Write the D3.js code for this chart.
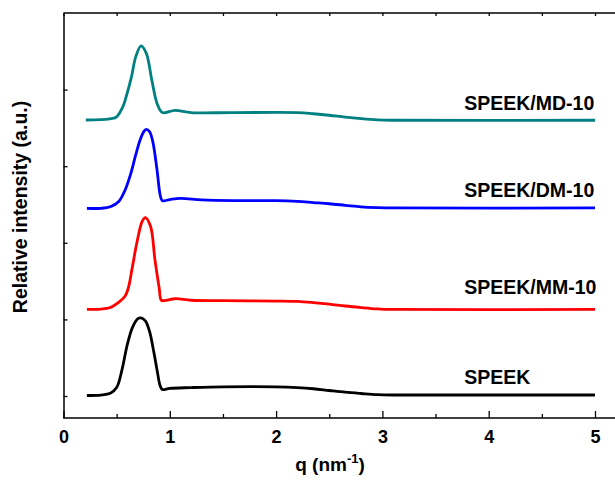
<!DOCTYPE html>
<html>
<head>
<meta charset="utf-8">
<script src="https://cdn.jsdelivr.net/npm/d3@7"></script>
<style>
  body { margin: 0; background: #fff; }
  svg { display: block; }
  text { font-family: "Liberation Sans", Arial, sans-serif; font-weight: bold; }
</style>
</head>
<body>
<script>
// series, bottom to top (stacked offsets already included)
var seriesNames = ["SPEEK", "SPEEK/MM-10", "SPEEK/DM-10", "SPEEK/MD-10"];
var seriesColors = ["#000000", "#ff0000", "#0000ff", "#008080"];

var speek = [
  [0.22, 0.007], [0.35, 0.013], [0.44, 0.035], [0.50, 0.11], [0.55, 0.34],
  [0.60, 0.67], [0.65, 0.90], [0.70, 1.01], [0.73, 1.02], [0.77, 0.98],
  [0.81, 0.84], [0.85, 0.57], [0.88, 0.34], [0.91, 0.13], [0.93, 0.085],
  [1.0, 0.10], [1.2, 0.11], [1.5, 0.12], [2.0, 0.12], [2.2, 0.11],
  [2.35, 0.095], [2.5, 0.072], [2.65, 0.05], [2.8, 0.033], [2.95, 0.018],
  [3.1, 0.013], [3.5, 0.013], [5.0, 0.013]
];
var speekMM = [
  [0.22, 1.13], [0.35, 1.135], [0.44, 1.155], [0.53, 1.235], [0.58, 1.305],
  [0.61, 1.41], [0.65, 1.70], [0.69, 2.00], [0.74, 2.28], [0.77, 2.33],
  [0.82, 2.21], [0.86, 1.78], [0.90, 1.41], [0.92, 1.25], [0.95, 1.245],
  [1.05, 1.27], [1.2, 1.25], [1.5, 1.245], [2.0, 1.24], [2.2, 1.235],
  [2.35, 1.22], [2.5, 1.20], [2.65, 1.175], [2.8, 1.155], [2.95, 1.138],
  [3.1, 1.13], [5.0, 1.13]
];
var speekDM = [
  [0.22, 2.45], [0.35, 2.45], [0.44, 2.47], [0.52, 2.54], [0.58, 2.69],
  [0.63, 2.89], [0.68, 3.15], [0.72, 3.34], [0.76, 3.46], [0.78, 3.48],
  [0.81, 3.45], [0.84, 3.32], [0.88, 2.95], [0.91, 2.62], [0.93, 2.55],
  [1.0, 2.565], [1.1, 2.58], [1.3, 2.56], [1.6, 2.55], [2.0, 2.55],
  [2.2, 2.54], [2.35, 2.525], [2.5, 2.51], [2.65, 2.49], [2.8, 2.47],
  [2.95, 2.46], [3.1, 2.455], [5.0, 2.455]
];
var speekMD = [
  [0.21, 3.603], [0.35, 3.607], [0.45, 3.62], [0.50, 3.645], [0.56, 3.78],
  [0.59, 3.91], [0.64, 4.17], [0.68, 4.43], [0.73, 4.57], [0.78, 4.47],
  [0.83, 4.13], [0.88, 3.82], [0.93, 3.70], [1.05, 3.73], [1.2, 3.70],
  [1.6, 3.70], [2.2, 3.70], [2.35, 3.685], [2.5, 3.665], [2.65, 3.64],
  [2.8, 3.62], [2.95, 3.605], [3.1, 3.60], [5.0, 3.60]
];
var allSeries = [speek, speekMM, speekDM, speekMD];

var xTicks = [0, 1, 2, 3, 4, 5];
var xMinorTicks = [0.5, 1.5, 2.5, 3.5, 4.5];
var yTicks = [0, 1, 2, 3, 4];

var W = 615, H = 481;
var svg = d3.select("body").append("svg").attr("width", W).attr("height", H);

var x = d3.scaleLinear().domain([0, 5]).range([63.5, 595]);
var y = d3.scaleLinear().domain([-0.287, 5]).range([418, 13]);

// top border (runs off the right edge)
var topG = svg.append("g").attr("transform", "translate(0," + y(5) + ")");
topG.append("line").attr("x1", x(0)).attr("x2", W + 5)
  .attr("stroke", "#000").attr("stroke-width", 1.5);
topG.call(d3.axisTop(x).tickValues(xTicks.concat(xMinorTicks)).tickSize(-3).tickFormat(""))
  .call(function (g) { g.select(".domain").remove(); });

// lines
var line = d3.line()
  .x(function (d) { return x(d[0]); })
  .y(function (d) { return y(d[1]); })
  .curve(d3.curveCatmullRom.alpha(0.5));

svg.selectAll(".curve")
  .data(allSeries)
  .enter()
  .append("path")
  .attr("class", "curve")
  .attr("d", line)
  .attr("fill", "none")
  .attr("stroke", function (d, i) { return seriesColors[i]; })
  .attr("stroke-width", 2.8)
  .attr("stroke-linejoin", "round");

// labels
var labelLift = [11, 15, 11, 10];
svg.selectAll(".lbl")
  .data(seriesNames)
  .enter()
  .append("text")
  .attr("class", "lbl")
  .attr("x", x(3.77))
  .attr("y", function (d, i) {
    var s = allSeries[i];
    return y(s[s.length - 1][1]) - labelLift[i];
  })
  .style("font-size", "19.5px")
  .style("fill", "#000")
  .text(function (d) { return d; });

// bottom axis
var xAxisG = svg.append("g").attr("transform", "translate(0," + y.range()[0] + ")");
xAxisG.append("line").attr("x1", x(0)).attr("x2", W + 5)
  .attr("stroke", "#000").attr("stroke-width", 1.5);
xAxisG.call(d3.axisBottom(x).tickValues(xMinorTicks).tickSize(-4).tickFormat(""))
  .call(function (g) { g.select(".domain").remove(); });
var xMaj = svg.append("g").attr("transform", "translate(0," + y.range()[0] + ")")
  .call(d3.axisBottom(x).tickValues(xTicks).tickSizeInner(-7).tickSizeOuter(0).tickPadding(12).tickFormat(d3.format("d")));
xMaj.select(".domain").remove();
xMaj.selectAll("text").style("font-size", "18px").attr("fill", "#000")
  .style("font-family", "'Liberation Sans', Arial, sans-serif").style("font-weight", "bold");
svg.selectAll(".tick line").attr("stroke", "#000").attr("stroke-width", 1.3);

// left axis
var yAxisG = svg.append("g").attr("transform", "translate(" + x(0) + ",0)")
  .call(d3.axisLeft(y).tickValues(yTicks).tickSizeInner(-4).tickSizeOuter(0).tickFormat(""));
yAxisG.select(".domain").attr("stroke-width", 1.5);
yAxisG.selectAll(".tick line").attr("stroke-width", 1.3);

// axis titles
var xt = svg.append("text")
  .attr("x", 330).attr("y", 471)
  .attr("text-anchor", "middle")
  .style("font-size", "19px");
xt.append("tspan").text("q (nm");
xt.append("tspan").attr("dy", -8).style("font-size", "13px").text("-1");
xt.append("tspan").attr("dy", 8).text(")");

svg.append("text")
  .attr("transform", "translate(27," + 207 + ") rotate(-90)")
  .attr("text-anchor", "middle")
  .style("font-size", "19.5px")
  .text("Relative intensity (a.u.)");
</script>
</body>
</html>
